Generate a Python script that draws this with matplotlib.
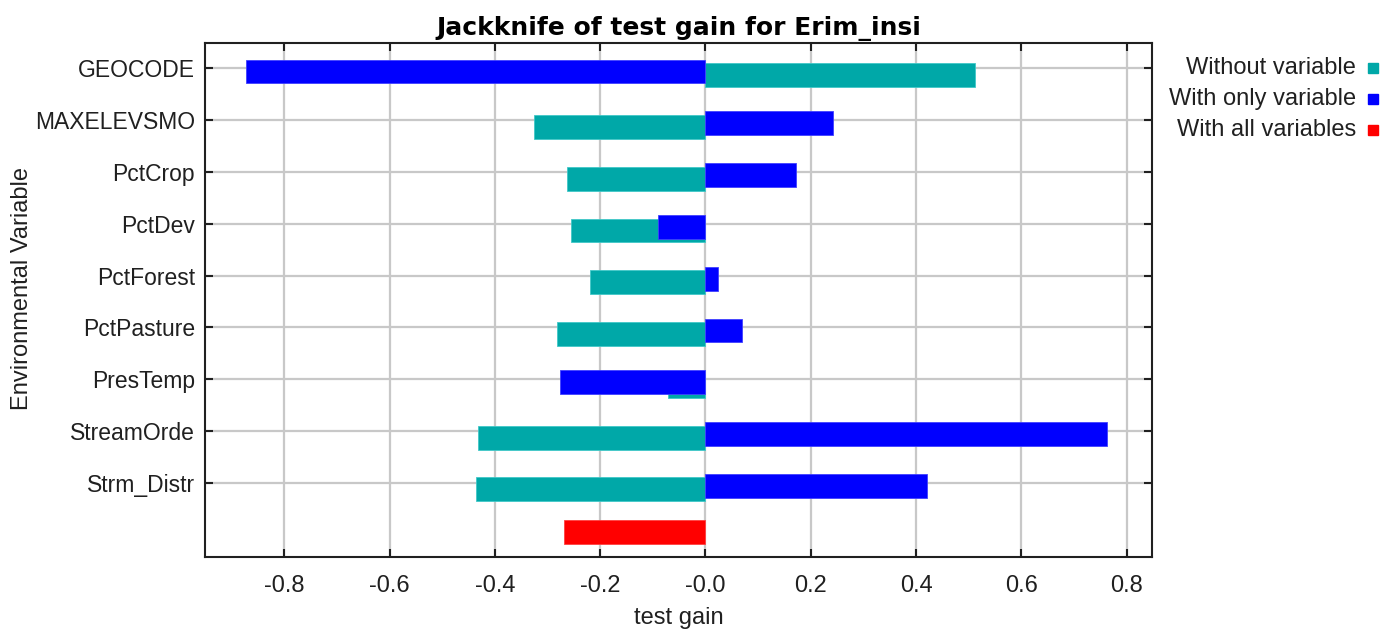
import numpy as np
import matplotlib
matplotlib.use("Agg")
import matplotlib.pyplot as plt
from matplotlib.patches import Rectangle

plt.rcParams["font.family"] = ["Liberation Sans", "DejaVu Sans"]

# >>>>>>>>>>>>>> data
variables = ["GEOCODE", "MAXELEVSMO", "PctCrop", "PctDev", "PctForest",
             "PctPasture", "PresTemp", "StreamOrde", "Strm_Distr"]
without_var = [0.512, -0.325, -0.264, -0.256, -0.219, -0.283, -0.071, -0.432, -0.436]
with_only = [-0.873, 0.242, 0.172, -0.090, 0.024, 0.070, -0.276, 0.763, 0.421]
with_all = -0.268
xticks = [-0.8, -0.6, -0.4, -0.2, 0.0, 0.2, 0.4, 0.6, 0.8]
xticklabels = ["-0.8", "-0.6", "-0.4", "-0.2", "-0.0", "0.2", "0.4", "0.6", "0.8"]

c_without = "#00a8a8"
c_only = "#0000ff"
c_all = "#ff0000"

# >>>>>>>>>>>>>> plotting
fig = plt.figure(figsize=(13.81, 6.29), dpi=100)
ax = fig.add_axes([0.1481, 0.1149, 0.6864, 0.8167])

pos = np.arange(len(variables))
h = 0.46
ax.barh(pos + 0.13, without_var, height=h, color=c_without, edgecolor="#40c8c8",
        linewidth=0.6, zorder=2)
ax.barh(pos + 0.06, with_only, height=h, color=c_only, edgecolor="#4040ff",
        linewidth=0.6, zorder=3)
ax.barh([len(variables) - 0.04], [with_all], height=h, color=c_all, edgecolor="#ff4040",
        linewidth=0.6, zorder=3)

ax.set_xlim(-0.9516, 0.849)
ax.set_ylim(9.43, -0.49)
ax.set_xticks(xticks)
ax.set_xticklabels(xticklabels)
ax.set_yticks(pos)
ax.set_yticklabels(variables)
ax.grid(True, color="#c8c8c8", linewidth=1.6, zorder=0)
ax.set_axisbelow(True)
ax.tick_params(axis="both", direction="in", length=6, width=1.5, color="#202020",
               top=True, right=True, labelsize=17, labelcolor="#202020")
ax.tick_params(axis="x", pad=13)
ax.tick_params(axis="y", pad=7, labelsize=16.5)
for s in ax.spines.values():
    s.set_linewidth(1.5)
    s.set_color("#202020")

ax.set_title("Jackknife of test gain for Erim_insi", fontsize=18, fontweight="bold",
             family="DejaVu Sans", pad=6)
ax.set_xlabel("test gain", fontsize=17, labelpad=7, color="#202020")
ax.set_ylabel("Environmental Variable", fontsize=17, color="#202020")
ax.yaxis.set_label_coords(-0.181, 0.523)

# legend at the right, text before the coloured squares
leg = [("Without variable", c_without), ("With only variable", c_only),
       ("With all variables", c_all)]
for i, (txt, col) in enumerate(leg):
    y = 1 - (68 + 31 * i) / 629
    fig.text(1356 / 1381, y, txt, ha="right", va="center", fontsize=17, color="#202020")
    fig.add_artist(Rectangle((1368 / 1381, y - 5 / 629), 10 / 1381, 10 / 629,
                             transform=fig.transFigure, color=col))

fig.savefig("out.png", dpi=100)
